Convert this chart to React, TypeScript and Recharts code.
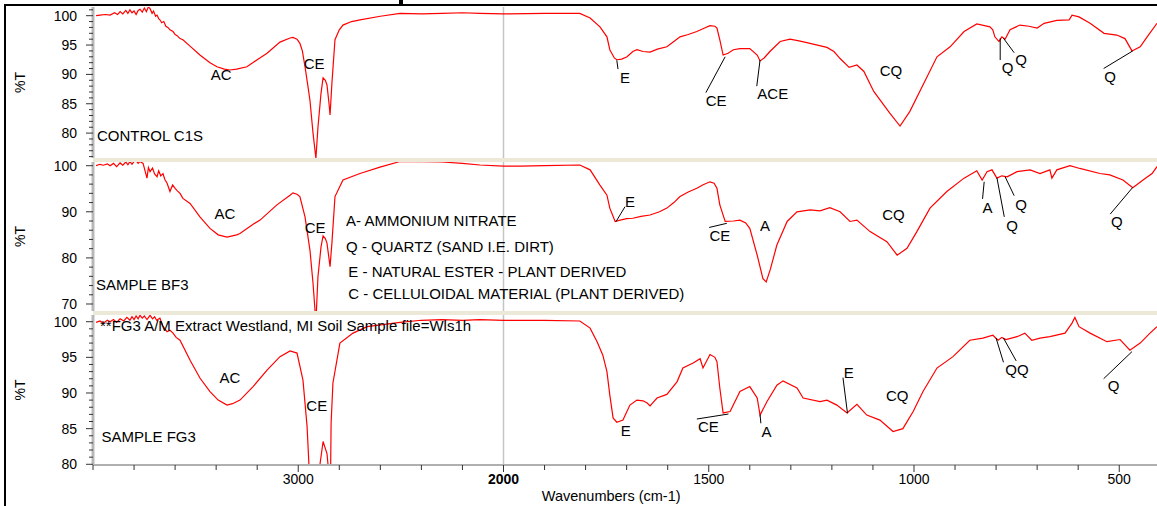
import React from 'react';
import { LineChart, Line, XAxis, YAxis, ReferenceLine, ReferenceDot, Label } from 'recharts';

// The 4000-2000 cm-1 range is drawn at half scale (usual FTIR split axis)
const toU = (w: number) => (w >= 2000 ? (4000 - w) / 2 : 1000 + (2000 - w));
const fromU = (u: number) => (u <= 1000 ? 4000 - 2 * u : 3000 - u);

const FONT = '"Liberation Sans", Arial, sans-serif';
const RED = '#ff0000';
const NOTE_SIZE = 15;

// [wavenumber, %T]
const controlC1S: number[][] = [
  [3985, 100.0], [3966, 100.1], [3940, 100.2], [3917, 100.1], [3895, 100.5], [3880, 100.2], [3868, 100.7],
  [3855, 100.3], [3840, 100.9], [3830, 100.4], [3820, 101.0], [3810, 100.5], [3800, 100.8], [3790, 100.2],
  [3780, 100.9], [3771, 101.1], [3760, 100.6], [3750, 101.3], [3740, 100.7], [3730, 101.5], [3722, 101.2],
  [3712, 100.4], [3705, 100.8], [3695, 99.9], [3688, 100.1], [3680, 99.5], [3674, 99.3], [3665, 98.8],
  [3655, 99.0], [3645, 98.2], [3635, 98.0], [3625, 97.6], [3610, 97.3], [3600, 96.8], [3590, 96.6],
  [3576, 96.1], [3562, 95.9], [3530, 94.9], [3479, 93.3], [3430, 92.0], [3396, 91.3], [3360, 90.9],
  [3333, 90.75], [3300, 90.9], [3250, 91.3], [3200, 92.5], [3152, 93.6], [3089, 95.5], [3040, 96.2],
  [3026, 96.3], [3006, 96.0], [2992, 95.3], [2980, 94.0], [2967, 91.3], [2955, 88.5], [2943, 85.6],
  [2928, 80.0], [2914, 75.7], [2904, 81.0], [2889, 86.8], [2879, 89.4], [2868, 89.0], [2860, 88.2],
  [2850, 85.0], [2845, 83.1], [2836, 88.5], [2821, 95.9], [2800, 97.6], [2782, 98.4], [2740, 99.0],
  [2699, 99.3], [2600, 99.9], [2504, 100.4], [2400, 100.3], [2300, 100.4], [2200, 100.5], [2115, 100.4],
  [2000, 100.3], [1900, 100.4], [1814, 100.4], [1789, 99.6], [1765, 98.1], [1748, 96.4], [1741, 94.2],
  [1730, 92.8], [1724, 92.5], [1712, 92.6], [1699, 93.0], [1685, 93.9], [1675, 94.2], [1660, 93.9],
  [1643, 93.8], [1625, 94.3], [1602, 94.7], [1585, 95.6], [1570, 96.4], [1550, 96.8], [1529, 97.3],
  [1510, 97.9], [1497, 98.3], [1485, 98.2], [1480, 97.9], [1473, 95.9], [1465, 93.3], [1453, 93.6],
  [1440, 94.2], [1424, 94.4], [1400, 94.4], [1382, 93.3], [1375, 92.3], [1365, 92.8], [1351, 93.9],
  [1326, 95.6], [1302, 96.0], [1280, 95.7], [1261, 95.4], [1212, 94.6], [1195, 93.9], [1180, 92.7],
  [1158, 91.2], [1139, 91.6], [1122, 90.5], [1098, 87.1], [1059, 83.4], [1034, 81.2], [1010, 83.7],
  [976, 88.5], [944, 93.0], [912, 94.7], [878, 97.3], [847, 98.6], [815, 98.1], [808, 97.6], [803, 96.4],
  [793, 95.6], [786, 96.4], [778, 96.0], [766, 97.6], [742, 98.4], [720, 98.2], [700, 97.9], [683, 98.7],
  [652, 99.2], [622, 99.3], [615, 100.1], [598, 99.8], [571, 98.7], [537, 97.0], [506, 96.7], [486, 96.1],
  [469, 94.0], [449, 94.7], [432, 96.4], [408, 98.7],
];

const sampleBF3: number[][] = [
  [3985, 100.0], [3966, 100.3], [3950, 100.1], [3930, 100.4], [3917, 100.0], [3900, 100.5], [3885, 99.8],
  [3868, 100.6], [3855, 100.1], [3840, 100.8], [3830, 100.2], [3820, 100.9], [3810, 100.3], [3800, 100.9],
  [3790, 101.1], [3780, 100.5], [3771, 100.9], [3756, 100.5], [3737, 97.3], [3730, 99.6], [3722, 98.7],
  [3710, 99.5], [3700, 98.2], [3688, 97.6], [3680, 98.9], [3670, 97.8], [3659, 98.3], [3650, 97.0],
  [3639, 96.2], [3625, 94.4], [3612, 95.8], [3600, 95.1], [3590, 94.6], [3576, 94.0], [3562, 92.9],
  [3527, 91.8], [3479, 88.9], [3430, 86.4], [3390, 85.0], [3347, 84.5], [3300, 85.0], [3284, 85.3],
  [3220, 87.3], [3186, 88.2], [3104, 91.5], [3040, 93.6], [3026, 94.1], [3006, 93.8], [2992, 93.3],
  [2967, 88.9], [2943, 81.7], [2928, 74.5], [2914, 66.0], [2904, 75.9], [2889, 82.4], [2879, 84.8],
  [2868, 84.2], [2860, 83.2], [2845, 78.1], [2836, 83.2], [2821, 93.3], [2782, 96.9], [2699, 98.3],
  [2602, 99.7], [2504, 100.9], [2400, 100.9], [2300, 100.8], [2200, 100.5], [2115, 100.15], [2000, 99.9],
  [1960, 99.9], [1900, 100.0], [1814, 100.15], [1789, 99.1], [1765, 95.8], [1748, 93.6], [1741, 90.8],
  [1728, 87.9], [1716, 88.2], [1700, 88.5], [1685, 88.6], [1665, 89.0], [1643, 89.3], [1620, 90.0],
  [1602, 90.8], [1585, 92.0], [1570, 93.3], [1550, 94.3], [1529, 95.1], [1515, 95.8], [1497, 96.5],
  [1487, 96.2], [1480, 95.1], [1473, 91.5], [1460, 87.9], [1440, 88.0], [1424, 88.2], [1410, 87.6],
  [1400, 86.4], [1382, 80.6], [1368, 75.5], [1360, 74.8], [1350, 77.5], [1334, 82.8], [1309, 87.9],
  [1285, 90.0], [1253, 90.4], [1229, 90.2], [1205, 90.9], [1180, 90.0], [1156, 87.9], [1139, 88.2],
  [1107, 85.7], [1066, 83.5], [1041, 80.6], [1017, 82.1], [993, 85.7], [961, 90.8], [920, 94.4],
  [878, 97.3], [847, 98.9], [834, 96.9], [822, 98.7], [810, 99.1], [798, 97.3], [786, 97.8], [773, 97.6],
  [749, 98.7], [717, 99.1], [693, 98.3], [669, 99.1], [664, 97.3], [652, 99.1], [620, 100.0], [596, 99.4],
  [547, 98.3], [523, 98.0], [491, 96.9], [467, 95.2], [442, 96.9], [420, 98.3], [408, 99.8],
];

const sampleFG3: number[][] = [
  [3985, 99.9], [3966, 100.1], [3950, 99.8], [3930, 100.2], [3917, 100.0], [3900, 100.3], [3885, 99.9],
  [3868, 100.4], [3850, 100.1], [3835, 100.6], [3820, 100.2], [3810, 100.7], [3800, 100.3], [3790, 100.8],
  [3780, 100.4], [3771, 100.9], [3760, 100.5], [3750, 100.8], [3737, 100.3], [3722, 100.9], [3710, 100.4],
  [3700, 100.7], [3690, 100.2], [3674, 100.5], [3660, 99.4], [3650, 99.0], [3639, 98.6], [3625, 98.8],
  [3610, 98.4], [3595, 97.8], [3576, 97.4], [3527, 94.6], [3479, 92.1], [3430, 90.2], [3390, 89.0],
  [3347, 88.3], [3320, 88.5], [3284, 89.0], [3220, 90.9], [3152, 93.2], [3089, 95.1], [3040, 95.9],
  [3006, 95.6], [2977, 91.8], [2957, 85.3], [2948, 80.0], [2935, 72.0], [2920, 65.0], [2905, 72.0],
  [2894, 80.0], [2879, 83.2], [2860, 81.5], [2850, 78.5], [2843, 77.0], [2840, 85.7], [2831, 91.4],
  [2797, 97.0], [2733, 98.4], [2665, 99.3], [2504, 99.9], [2400, 100.2], [2300, 100.3], [2200, 100.2],
  [2115, 100.3], [2000, 100.2], [1900, 100.2], [1814, 100.1], [1789, 99.1], [1772, 97.2], [1758, 95.3],
  [1748, 93.0], [1741, 89.7], [1733, 86.5], [1724, 85.9], [1709, 86.2], [1692, 88.3], [1675, 89.0],
  [1660, 88.9], [1650, 88.6], [1643, 88.2], [1626, 89.3], [1602, 89.8], [1577, 91.6], [1563, 93.5],
  [1538, 94.2], [1521, 94.8], [1514, 93.5], [1497, 95.4], [1485, 95.0], [1480, 94.4], [1473, 90.7],
  [1465, 87.2], [1448, 87.4], [1424, 90.2], [1400, 90.9], [1382, 89.3], [1375, 86.9], [1358, 88.8],
  [1334, 91.1], [1319, 91.7], [1285, 90.7], [1270, 89.3], [1229, 88.8], [1212, 89.0], [1188, 88.3],
  [1163, 87.2], [1139, 88.4], [1115, 86.9], [1083, 86.2], [1051, 84.6], [1027, 85.0], [1002, 87.4],
  [978, 90.2], [944, 93.5], [905, 95.1], [864, 97.4], [832, 97.7], [808, 98.1], [795, 97.4], [786, 97.8],
  [776, 97.5], [749, 97.9], [730, 98.4], [713, 97.4], [693, 97.7], [669, 97.9], [632, 98.4], [615, 99.8],
  [608, 100.6], [598, 99.3], [571, 98.4], [530, 97.2], [498, 97.5], [474, 96.0], [449, 97.0], [425, 98.4],
  [408, 99.3],
];

// tick positions on the plot scale, and which wavenumbers get a label
const xTickPositions = [0, 100, 200, 300, 400, 500, 600, 700, 800, 900, 1000, 1100, 1200, 1300,
  1400, 1500, 1600, 1700, 1800, 1900, 2000, 2100, 2200, 2300, 2400, 2500];
const xTickLabels = [3000, 2000, 1500, 1000, 500];

const yTicksC1S = [76, 77, 78, 79, 80, 81, 82, 83, 84, 85, 86, 87, 88, 89, 90, 91, 92, 93, 94, 95, 96, 97, 98, 99, 100, 101];
const yTicksBF3 = [70, 72, 74, 76, 78, 80, 82, 84, 86, 88, 90, 92, 94, 96, 98, 100];
const yTicksFG3 = [80, 81, 82, 83, 84, 85, 86, 87, 88, 89, 90, 91, 92, 93, 94, 95, 96, 97, 98, 99, 100];

// annotations: [wavenumber, %T, text]
const notesC1S: [number, number, string][] = [
  [3376, 89.9, 'AC'], [2923, 91.9, 'CE'], [1704, 89.5, 'E'], [1482, 85.6, 'CE'], [1344, 86.65, 'ACE'],
  [1056, 90.6, 'CQ'], [772, 91.1, 'Q'], [739, 92.45, 'Q'], [522, 89.7, 'Q'],
];
const leadersC1S = [
  [1724, 92.4, 1721, 90.9], [1460, 93.0, 1507, 86.9], [1375, 92.45, 1383, 88.0],
  [790, 96.15, 790, 92.45], [782, 96.15, 756, 93.7], [467, 94.0, 538, 91.0],
];
const notesBF3: [number, number, string][] = [
  [3357, 89.5, 'AC'], [2918, 86.6, 'CE'], [1692, 92.2, 'E'], [1473, 84.8, 'CE'], [1363, 87.0, 'A'],
  [1050, 89.3, 'CQ'], [821, 91.0, 'A'], [761, 87.0, 'Q'], [739, 91.6, 'Q'], [506, 87.85, 'Q'],
];
const leadersBF3 = [
  [1726, 87.85, 1704, 91.1], [1499, 86.6, 1456, 87.5], [829, 96.5, 833, 92.8],
  [798, 97.4, 780, 88.9], [778, 97.6, 756, 93.5], [467, 95.3, 522, 89.5],
];
const notesFG3: [number, number, string][] = [
  [3333, 92.2, 'AC'], [2910, 88.2, 'CE'], [1702, 84.7, 'E'], [1501, 85.3, 'CE'], [1359, 84.6, 'A'],
  [1159, 92.8, 'E'], [1041, 89.7, 'CQ'], [749, 93.3, 'QQ'], [514, 91.0, 'Q'],
];
const leadersFG3 = [
  [1529, 86.35, 1452, 87.05], [1375, 87.0, 1373, 85.75], [1173, 92.15, 1162, 87.15],
  [800, 97.7, 782, 94.3], [782, 97.7, 751, 94.5], [469, 95.8, 538, 92.0],
];

// left-aligned texts: [wavenumber, %T, text]
const textsC1S: [number, number, string][] = [[3981, 79.5, 'CONTROL C1S']];
const textsBF3: [number, number, string][] = [
  [3985, 74.1, 'SAMPLE BF3'],
  [2767, 88.1, 'A- AMMONIUM NITRATE'],
  [2767, 82.4, 'Q - QUARTZ (SAND I.E. DIRT)'],
  [2756, 77.0, 'E - NATURAL ESTER - PLANT DERIVED'],
  [2756, 72.3, 'C - CELLULOIDAL MATERIAL (PLANT DERIVED)'],
];
const textsFG3: [number, number, string][] = [
  [3966, 99.5, '**FG3 A/M Extract Westland, MI Soil Sample file=Wls1h'],
  [3958, 83.9, 'SAMPLE FG3'],
];

const X_DOMAIN: [number, number] = [0, 2592];
const PAD = 10; // room above each plot so the top tick label is not cut

const YTick = ({ x, y, payload, step }: any) => {
  const major = payload.value % step === 0;
  return (
    <g>
      <line x1={x - (major ? 7 : 4)} x2={x} y1={y} y2={y} stroke="#333" strokeWidth={1} />
      {major && (
        <text x={x - 16} y={y} dy="0.36em" textAnchor="end" fontSize={14} fontFamily={FONT} fill="#000">
          {payload.value}
        </text>
      )}
    </g>
  );
};

const XTick = ({ x, y, payload }: any) => {
  const w = fromU(payload.value);
  const labelled = xTickLabels.includes(w);
  return (
    <g>
      <line x1={x} x2={x} y1={y} y2={y + (labelled ? 7 : 5)} stroke="#333" strokeWidth={1} />
      {labelled && (
        <text x={x} y={y + 14} dy="0.36em" textAnchor="middle" fontSize={14} fontFamily={FONT}
          fontWeight={w === 2000 ? 'bold' : 'normal'} fill="#000">
          {w}
        </text>
      )}
    </g>
  );
};

interface PanelProps {
  rows: number[][];
  domain: [number, number];
  ticks: number[];
  step: number;
  top: number;
  height: number;
  notes: [number, number, string][];
  leaders: number[][];
  texts: [number, number, string][];
  showX?: boolean;
}

const Panel: React.FC<PanelProps> = ({ rows, domain, ticks, step, top, height, notes, leaders, texts, showX }) => {
  const data = rows.map(([w, t]) => ({ u: toU(w), t }));
  return (
    <div style={{ position: 'absolute', left: 0, top: top - PAD }}>
      <LineChart width={1157} height={height + PAD} data={data} margin={{ top: PAD, right: 0, bottom: 0, left: 0 }}>
        <XAxis
          dataKey="u"
          type="number"
          domain={X_DOMAIN}
          allowDataOverflow
          hide={!showX}
          ticks={xTickPositions}
          interval={0}
          height={41}
          tickSize={0}
          tickMargin={0}
          tick={(p: any) => <XTick {...p} />}
          axisLine={{ stroke: '#b0b0b0', strokeWidth: 2 }}
        >
          {showX && (
            <Label
              content={(p: any) => {
                const vb = p.viewBox;
                return (
                  <text x={vb.x + vb.width * 0.487} y={vb.y + 31} dy="0.36em" textAnchor="middle"
                    fontSize={14.5} fontFamily={FONT} fill="#000">
                    Wavenumbers (cm-1)
                  </text>
                );
              }}
            />
          )}
        </XAxis>
        <YAxis
          type="number"
          width={93}
          domain={domain}
          allowDataOverflow
          ticks={ticks}
          interval={0}
          tickSize={0}
          tickMargin={0}
          tick={(p: any) => <YTick {...p} step={step} />}
          axisLine={{ stroke: '#b8b8b8', strokeWidth: 3 }}
        >
          <Label
            content={(p: any) => {
              const vb = p.viewBox;
              const cx = vb.x + 20;
              const cy = vb.y + vb.height / 2;
              return (
                <text x={cx} y={cy} dy="0.36em" textAnchor="middle" fontSize={14} fontFamily={FONT}
                  fill="#000" transform={`rotate(-90 ${cx} ${cy})`}>
                  %T
                </text>
              );
            }}
          />
        </YAxis>
        <ReferenceLine x={toU(2000)} stroke="#c4c4c4" strokeWidth={1.5} />
        <Line type="linear" dataKey="t" stroke={RED} strokeWidth={1.2} dot={false} isAnimationActive={false} />
        {leaders.map(([w1, t1, w2, t2], i) => (
          <ReferenceLine
            key={`l${i}`}
            segment={[{ x: toU(w1), y: t1 }, { x: toU(w2), y: t2 }]}
            stroke="#000"
            strokeWidth={1}
          />
        ))}
        {notes.map(([w, t, s], i) => (
          <ReferenceDot
            key={`n${i}`}
            x={toU(w)}
            y={t}
            r={0}
            shape={(p: any) => (
              <text x={p.cx} y={p.cy} dy="0.36em" textAnchor="middle" fontSize={NOTE_SIZE} fontFamily={FONT} fill="#000">
                {s}
              </text>
            )}
          />
        ))}
        {texts.map(([w, t, s], i) => (
          <ReferenceDot
            key={`t${i}`}
            x={toU(w)}
            y={t}
            r={0}
            shape={(p: any) => (
              <text x={p.cx} y={p.cy} dy="0.36em" textAnchor="start" fontSize={NOTE_SIZE} fontFamily={FONT} fill="#000">
                {s}
              </text>
            )}
          />
        ))}
      </LineChart>
    </div>
  );
};

export default function App() {
  return (
    <div style={{ position: 'absolute', left: 0, top: 0, width: 1157, height: 506, background: '#fff', overflow: 'hidden', fontFamily: FONT }}>
      <Panel rows={controlC1S} domain={[75.76, 101.48]} ticks={yTicksC1S} step={5} top={7} height={151}
        notes={notesC1S} leaders={leadersC1S} texts={textsC1S} />
      <Panel rows={sampleBF3} domain={[68.48, 100.8]} ticks={yTicksBF3} step={10} top={162} height={149}
        notes={notesBF3} leaders={leadersBF3} texts={textsBF3} />
      <Panel rows={sampleFG3} domain={[79.9, 100.94]} ticks={yTicksFG3} step={5} top={315} height={191}
        notes={notesFG3} leaders={leadersFG3} texts={textsFG3} showX />
      {/* panel separators */}
      <div style={{ position: 'absolute', left: 93, top: 158, width: 1064, height: 4, background: '#ece9d8' }} />
      <div style={{ position: 'absolute', left: 93, top: 311, width: 1064, height: 4, background: '#ece9d8' }} />
      {/* frame of the original figure */}
      <div style={{ position: 'absolute', left: 4, top: 4, width: 1153, height: 2, background: '#000' }} />
      <div style={{ position: 'absolute', left: 4, top: 4, width: 2, height: 502, background: '#000' }} />
      <div style={{ position: 'absolute', left: 399, top: 0, width: 4, height: 4, background: '#000' }} />
    </div>
  );
}
